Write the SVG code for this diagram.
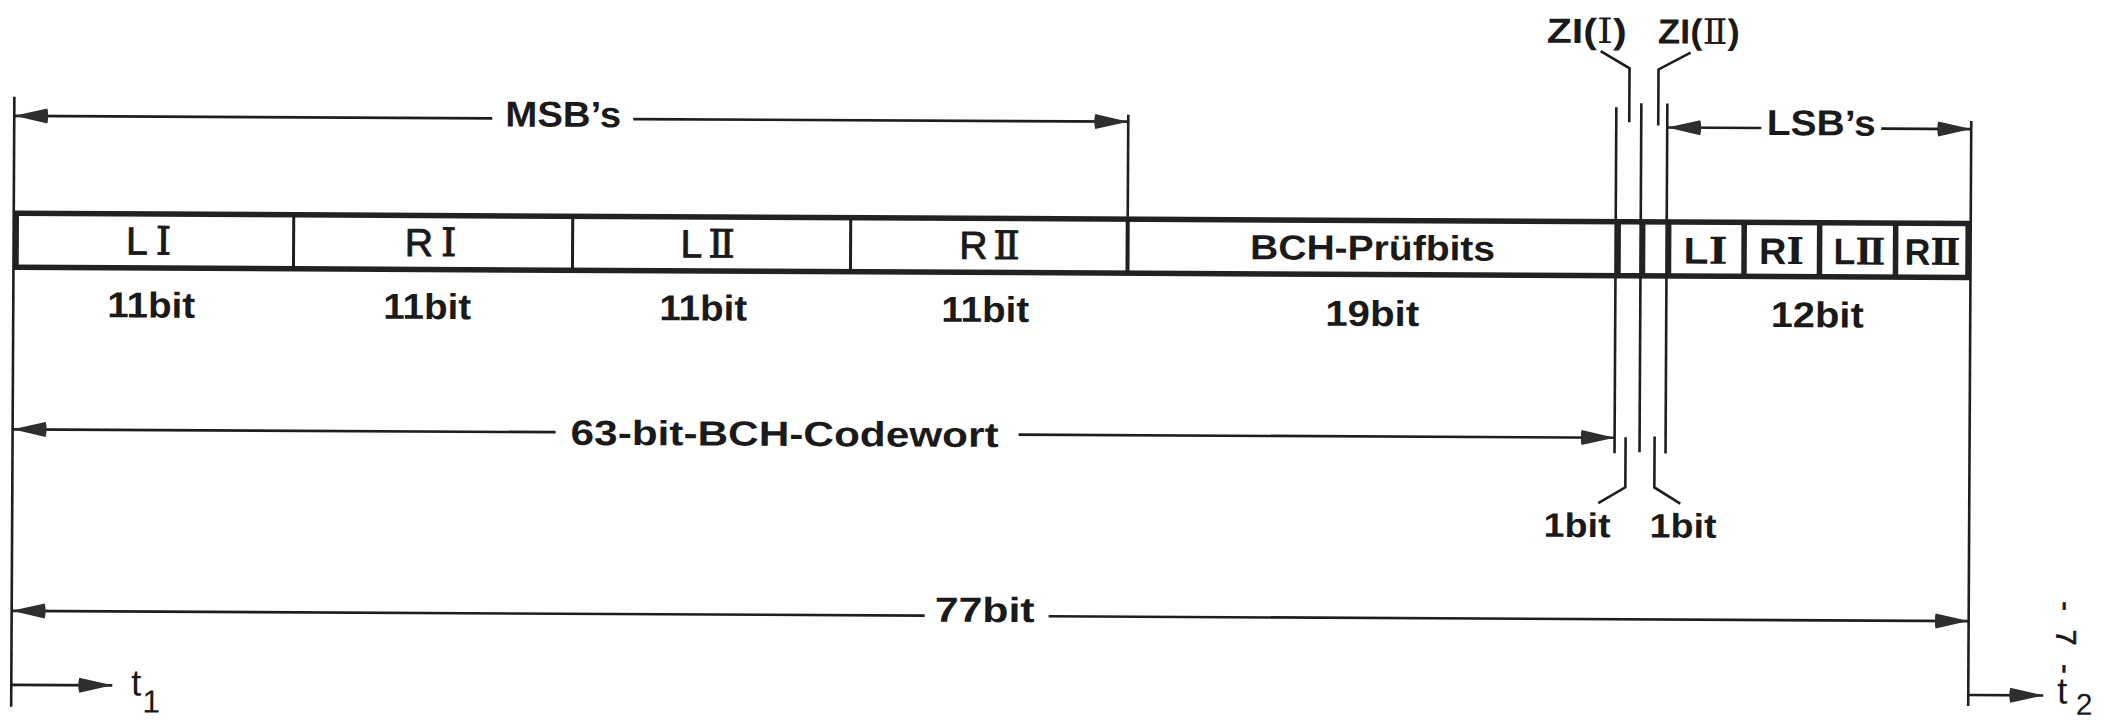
<svg xmlns="http://www.w3.org/2000/svg" width="2109" height="720" viewBox="0 0 2109 720">
<style>
.ln{stroke:#1e1e1e;stroke-width:2.6;fill:none}
.dv{stroke:#1e1e1e;stroke-width:3;fill:none}
.thk{stroke:#222;stroke-width:5.5;fill:none}
.ar{stroke:#1e1e1e;stroke-width:2.6;fill:none;marker-end:url(#ah)}
.t{font-family:'Liberation Sans',Arial,sans-serif;font-weight:bold;fill:#1a1a1a;text-anchor:middle}
.s{font-family:'Liberation Sans',Arial,sans-serif;font-weight:normal;fill:#1a1a1a;text-anchor:middle}
.sb{stroke:#1a1a1a;stroke-width:0.9}
.rn{font-family:'DejaVu Serif','Liberation Serif',serif}
</style>
<defs>
<marker id="ah" markerUnits="userSpaceOnUse" markerWidth="38" markerHeight="18" refX="34" refY="9" orient="auto">
<path d="M1,1.5 L34,9 L1,16.5 Q-1,9 1,1.5Z" fill="#2e2e2e"/>
</marker>
</defs>
<rect width="2109" height="720" fill="#fff"/>
<g transform="rotate(0.3 1000 360)">
<g id="connectors">
<path class="ln" d="M13,102 V712"/>
<path class="ln" d="M1970,116 V701"/>
<path class="ln" d="M1127,114 V216"/>
<path class="ln" d="M1615,104 V450"/>
<path class="ln" d="M1640,100 V449"/>
<path class="ln" d="M1666,100 V450"/>
<path class="ar" d="M491,121 H13"/>
<path class="ar" d="M632,121 H1127"/>
<path class="ar" d="M1760,124 H1666"/>
<path class="ar" d="M1880,124 H1970"/>
<path class="ar" d="M556,434.5 H13"/>
<path class="ar" d="M1019,434.5 H1615"/>
<path class="ar" d="M926,616 H13"/>
<path class="ar" d="M1050,616 H1970"/>
<path class="ar" d="M13,690 H114"/>
<path class="ar" d="M1970,690 H2045"/>
<polyline class="ln" points="1599,48 1628,65 1628,119"/>
<polyline class="ln" points="1689,49 1657,66 1657,122"/>
<polyline class="ln" points="1626,434 1626,484 1599,500"/>
<polyline class="ln" points="1655,433 1655,484 1681,500"/>
</g>
<g id="bar">
<rect class="thk" x="15.5" y="218.5" width="1952" height="54"/>
</g>
<g id="seg-LI"><text class="s sb" x="148" y="259" font-size="39">L<tspan class="rn" dx="8">Ⅰ</tspan></text></g>
<g id="seg-RI"><path class="dv" d="M293,218 V273"/><text class="s sb" x="430" y="259" font-size="39">R<tspan class="rn" dx="8">Ⅰ</tspan></text></g>
<g id="seg-LII"><path class="dv" d="M572,218 V273"/><text class="s sb" x="707" y="259" font-size="39">L<tspan class="rn" dx="6">Ⅱ</tspan></text></g>
<g id="seg-RII"><path class="dv" d="M850,218 V273"/><text class="s sb" x="989" y="259" font-size="39">R<tspan class="rn" dx="6">Ⅱ</tspan></text></g>
<g id="seg-BCH"><path class="dv" d="M1127,218 V273" style="stroke-width:4"/><text class="t" x="1372" y="258" font-size="35" textLength="245" lengthAdjust="spacingAndGlyphs">BCH-Prüfbits</text></g>
<g id="seg-ZI1"><path class="thk" d="M1617.5,218 V273"/></g>
<g id="seg-ZI2"><path class="thk" d="M1642,218 V273"/></g>
<g id="seg-LSB-LI"><path class="thk" d="M1668,218 V273"/><text class="t" x="1705" y="260" font-size="37" textLength="44" lengthAdjust="spacingAndGlyphs">L<tspan class="rn">Ⅰ</tspan></text></g>
<g id="seg-LSB-RI"><path class="thk" d="M1743.5,218 V273"/><text class="t" x="1781" y="260" font-size="37" textLength="45" lengthAdjust="spacingAndGlyphs">R<tspan class="rn">Ⅰ</tspan></text></g>
<g id="seg-LSB-LII"><path class="thk" d="M1819,218 V273"/><text class="t" x="1859" y="260" font-size="37" textLength="52" lengthAdjust="spacingAndGlyphs">L<tspan class="rn">Ⅱ</tspan></text></g>
<g id="seg-LSB-RII"><path class="thk" d="M1895,218 V273"/><text class="t" x="1932" y="260" font-size="37" textLength="56" lengthAdjust="spacingAndGlyphs">R<tspan class="rn">Ⅱ</tspan></text></g>
<g id="labels">
<text class="t" x="562" y="129" font-size="36" textLength="116" lengthAdjust="spacingAndGlyphs">MSB’s</text>
<text class="t" x="1820" y="131" font-size="36" textLength="109" lengthAdjust="spacingAndGlyphs">LSB’s</text>
<text class="t" x="1585" y="40" font-size="35" textLength="80" lengthAdjust="spacingAndGlyphs">ZI(<tspan class="rn" font-weight="normal">Ⅰ</tspan>)</text>
<text class="t" x="1697" y="40" font-size="35" textLength="82" lengthAdjust="spacingAndGlyphs">ZI(<tspan class="rn" font-weight="normal">Ⅱ</tspan>)</text>
<text class="t" x="151" y="322" font-size="36" textLength="88" lengthAdjust="spacingAndGlyphs">11bit</text>
<text class="t" x="427" y="322" font-size="36" textLength="88" lengthAdjust="spacingAndGlyphs">11bit</text>
<text class="t" x="703" y="322" font-size="36" textLength="88" lengthAdjust="spacingAndGlyphs">11bit</text>
<text class="t" x="985" y="322" font-size="36" textLength="88" lengthAdjust="spacingAndGlyphs">11bit</text>
<text class="t" x="1372" y="324" font-size="36" textLength="94" lengthAdjust="spacingAndGlyphs">19bit</text>
<text class="t" x="1817" y="323" font-size="36" textLength="93" lengthAdjust="spacingAndGlyphs">12bit</text>
<text class="t" x="785" y="447" font-size="35" textLength="428" lengthAdjust="spacingAndGlyphs">63-bit-BCH-Codewort</text>
<text class="t" x="1578" y="534" font-size="34" textLength="67" lengthAdjust="spacingAndGlyphs">1bit</text>
<text class="t" x="1684" y="534" font-size="34" textLength="67" lengthAdjust="spacingAndGlyphs">1bit</text>
<text class="t" x="986" y="622" font-size="35" textLength="100" lengthAdjust="spacingAndGlyphs">77bit</text>
<text class="s" x="138" y="700" font-size="37">t</text>
<text class="s" x="153" y="717" font-size="32">1</text>
<text class="s" x="2064" y="698" font-size="37">t</text>
<text class="s" x="2086" y="709" font-size="30">2</text>
<text class="s sb" transform="translate(2058,632) rotate(90)" font-size="28" textLength="72">- 7 -</text>
</g>
</g>
</svg>
